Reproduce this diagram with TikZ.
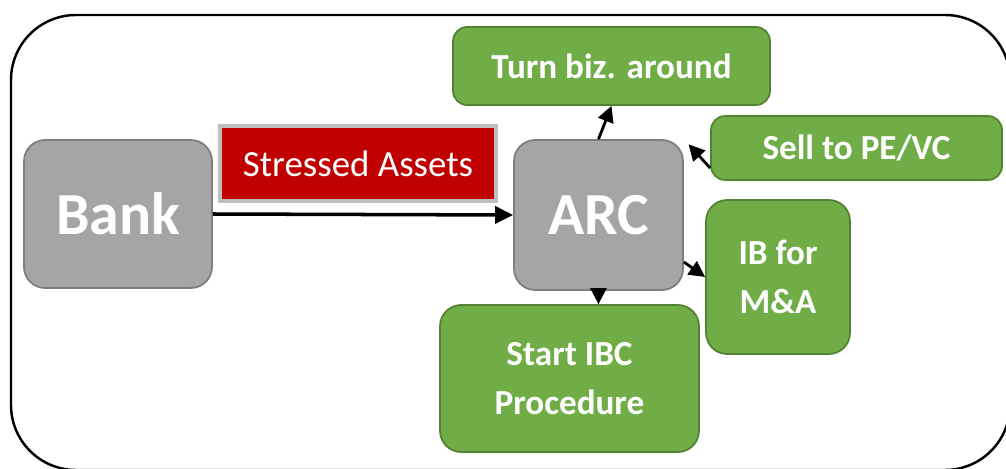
\documentclass[tikz,border=0pt]{standalone}
\usepackage{fontspec}
\setmainfont{Carlito}
\usetikzlibrary{arrows.meta,calc}
\definecolor{ArcGray}{RGB}{165,165,165}
\definecolor{ArcGrayDark}{RGB}{125,125,125}
\definecolor{ArcGreen}{RGB}{112,173,71}
\definecolor{ArcGreenDark}{RGB}{84,130,53}
\definecolor{ArcRed}{RGB}{192,0,0}
\definecolor{ArcRedEdge}{RGB}{191,191,191}
\tikzset{
  gbox/.style={draw=ArcGrayDark,fill=ArcGray,line width=1pt,rounded corners=12pt,text=white,align=center,font=\fontsize{34}{38}\selectfont\bfseries},
  rbox/.style={draw=ArcRedEdge,fill=ArcRed,line width=1.8pt,text=white,align=center,font=\fontsize{21}{25}\selectfont},
  nbox/.style={draw=ArcGreenDark,fill=ArcGreen,line width=1pt,rounded corners=8pt,text=white,align=center,font=\fontsize{20}{27.5}\selectfont\bfseries},
  arr/.style={-{Triangle[length=0.32cm,width=0.32cm]},line width=1.6pt},
  barr/.style={-{Triangle[length=0.36cm,width=0.34cm]},line width=2pt},
}

\begin{document}
\begin{tikzpicture}[x=0.02cm,y=-0.02cm]
    \path[use as bounding box,clip] (0,0) rectangle (1006,469);
    %% Frame
    \draw[line width=1.4pt,rounded corners=1.3cm] (11,15) rectangle (1010,470);
    %% Boxes
    \node[gbox,minimum width=3.76cm,minimum height=2.96cm] (bank) at (118,214) {Bank};
    \node[rbox,minimum width=5.52cm,minimum height=1.5cm]  (assets) at (358,163.5) {Stressed Assets};
    \node[gbox,minimum width=3.38cm,minimum height=3.0cm]  (arc) at (598.5,215) {ARC};
    \node[nbox,minimum width=6.34cm,minimum height=1.56cm] (turn) at (611.5,66) {Turn biz. around};
    \node[nbox,minimum width=5.82cm,minimum height=1.28cm] (sell) at (856.5,148) {Sell to PE/VC};
    \node[nbox,rounded corners=12pt,minimum width=2.88cm,minimum height=3.08cm] (ib) at (778,277) {IB for\\M\&A};
    \node[nbox,rounded corners=12pt,minimum width=5.18cm,minimum height=2.94cm] (ibc) at (569.5,378.5) {Start IBC\\Procedure};
    %% Arrows
    \draw[barr] (bank.east) -- (arc.west);
    \draw[arr] (arc.north) -- (turn.south);
    \draw[arr,shorten >=0.14cm] ([yshift=-0.4cm]sell.west) -- (arc.north east);
    \draw[arr] ([yshift=-0.94cm]arc.east) -- (ib.west);
    \draw[arr] (arc.south) -- (arc.south |- ibc.north);
\end{tikzpicture}
\end{document}
